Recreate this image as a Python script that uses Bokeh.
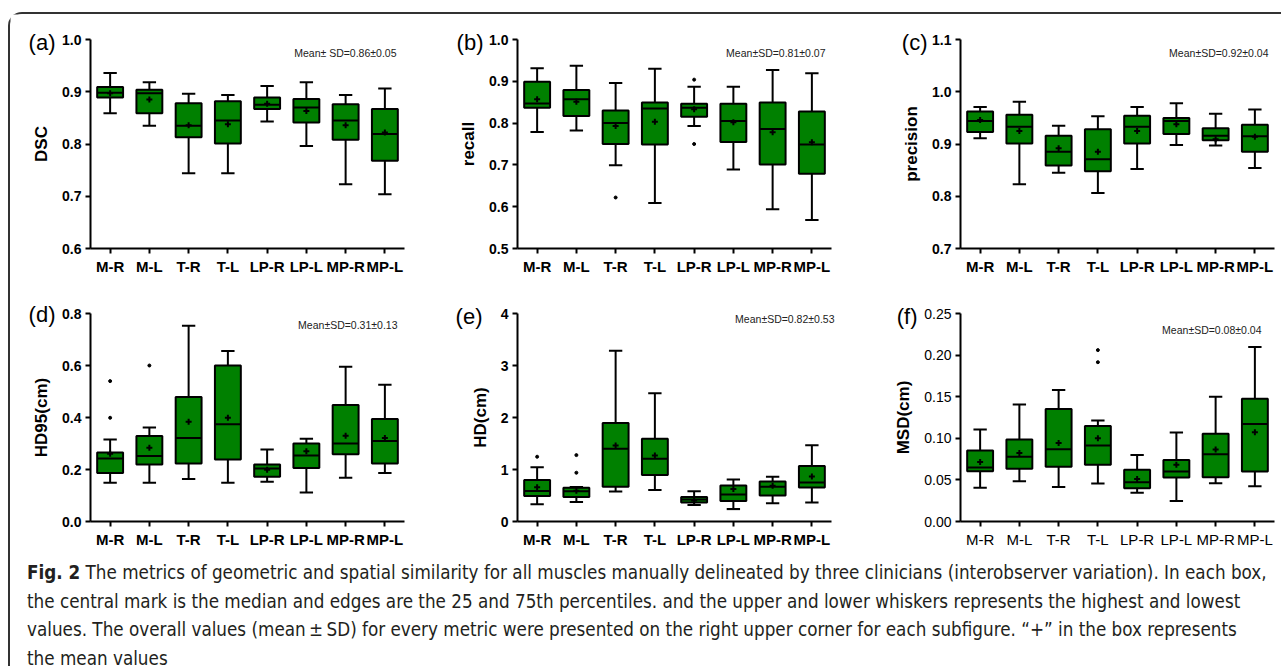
from bokeh.plotting import figure
from bokeh.models import Range1d, FixedTicker, Label, Div, NumeralTickFormatter
from bokeh.layouts import row, column
from bokeh.embed import file_html
from bokeh.resources import INLINE

categories = ["M-R", "M-L", "T-R", "T-L", "LP-R", "LP-L", "MP-R", "MP-L"]

# (a) DSC
dsc_low = [0.859, 0.835, 0.744, 0.744, 0.843, 0.796, 0.723, 0.704]
dsc_q1 = [0.889, 0.859, 0.813, 0.801, 0.867, 0.841, 0.808, 0.768]
dsc_med = [0.898, 0.897, 0.835, 0.845, 0.875, 0.870, 0.845, 0.819]
dsc_q3 = [0.909, 0.904, 0.878, 0.882, 0.889, 0.886, 0.876, 0.867]
dsc_high = [0.936, 0.918, 0.896, 0.894, 0.911, 0.918, 0.894, 0.906]
dsc_mean = [0.897, 0.885, 0.836, 0.838, 0.877, 0.863, 0.836, 0.822]
dsc_out_x = []
dsc_out_y = []

# (b) recall
rec_low = [0.779, 0.782, 0.699, 0.609, 0.793, 0.689, 0.594, 0.568]
rec_q1 = [0.837, 0.817, 0.750, 0.749, 0.815, 0.755, 0.701, 0.679]
rec_med = [0.847, 0.857, 0.800, 0.835, 0.837, 0.805, 0.786, 0.749]
rec_q3 = [0.899, 0.879, 0.830, 0.849, 0.846, 0.846, 0.849, 0.828]
rec_high = [0.931, 0.937, 0.896, 0.930, 0.887, 0.887, 0.927, 0.919]
rec_mean = [0.857, 0.851, 0.793, 0.803, 0.833, 0.802, 0.778, 0.754]
rec_out_x = [2, 4, 4]
rec_out_y = [0.622, 0.904, 0.750]

# (c) precision
pre_low = [0.911, 0.823, 0.845, 0.806, 0.852, 0.898, 0.897, 0.854]
pre_q1 = [0.923, 0.901, 0.859, 0.848, 0.901, 0.919, 0.907, 0.885]
pre_med = [0.944, 0.933, 0.885, 0.871, 0.933, 0.944, 0.916, 0.915]
pre_q3 = [0.962, 0.956, 0.916, 0.928, 0.954, 0.950, 0.930, 0.937]
pre_high = [0.971, 0.981, 0.935, 0.953, 0.971, 0.978, 0.958, 0.966]
pre_mean = [0.946, 0.925, 0.892, 0.885, 0.925, 0.938, 0.909, 0.914]
pre_out_x = []
pre_out_y = []

# (d) HD95 (cm)
h95_low = [0.149, 0.149, 0.163, 0.149, 0.153, 0.112, 0.168, 0.187]
h95_q1 = [0.187, 0.219, 0.223, 0.238, 0.172, 0.206, 0.259, 0.223]
h95_med = [0.242, 0.252, 0.321, 0.374, 0.204, 0.254, 0.300, 0.310]
h95_q3 = [0.265, 0.329, 0.479, 0.600, 0.219, 0.300, 0.448, 0.394]
h95_high = [0.315, 0.362, 0.753, 0.656, 0.277, 0.318, 0.595, 0.526]
h95_mean = [0.261, 0.284, 0.384, 0.399, 0.199, 0.270, 0.330, 0.321]
h95_out_x = [0, 0, 1]
h95_out_y = [0.540, 0.399, 0.600]

# (e) HD (cm)
hd_low = [0.331, 0.375, 0.575, 0.606, 0.319, 0.238, 0.350, 0.363]
hd_q1 = [0.490, 0.469, 0.668, 0.895, 0.363, 0.394, 0.500, 0.656]
hd_med = [0.588, 0.580, 1.400, 1.209, 0.425, 0.519, 0.669, 0.748]
hd_q3 = [0.800, 0.648, 1.892, 1.591, 0.472, 0.694, 0.769, 1.068]
hd_high = [1.043, 0.665, 3.283, 2.465, 0.584, 0.806, 0.862, 1.468]
hd_mean = [0.660, 0.590, 1.460, 1.270, 0.406, 0.625, 0.688, 0.865]
hd_out_x = [0, 1, 1]
hd_out_y = [1.246, 1.277, 0.938]

# (f) MSD (cm)
msd_low = [0.0407, 0.0484, 0.0415, 0.0456, 0.0346, 0.0246, 0.0460, 0.0423]
msd_q1 = [0.0605, 0.0633, 0.0658, 0.0682, 0.0400, 0.0528, 0.0532, 0.0601]
msd_med = [0.0650, 0.0779, 0.0868, 0.0912, 0.0472, 0.0601, 0.0807, 0.1171]
msd_q3 = [0.0852, 0.0985, 0.1353, 0.1147, 0.0621, 0.0738, 0.1054, 0.1474]
msd_high = [0.1106, 0.1405, 0.1580, 0.1215, 0.0800, 0.1070, 0.1500, 0.2097]
msd_mean = [0.0714, 0.0823, 0.0945, 0.1000, 0.0512, 0.0682, 0.0864, 0.1074]
msd_out_x = [3, 3]
msd_out_y = [0.206, 0.1915]

GREEN = "#008000"
FONT = "Liberation Sans"
AX_W = 314.0          # pixel length of the category axis
K = AX_W / 8.0        # pixels per category unit


def panel(letter, ylabel, yticks, fmt, stats, outx, outy, note, bold_ticks,
          fig_w, axis_off, top_pad, data_h, bottom_b,
          letter_dx, letter_dy, note_dx, note_dy):
    low, q1, med, q3, high, mean = stats
    ymin, ymax = yticks[0], yticks[-1]
    dy = (ymax - ymin) / data_h
    xl = -0.5 - axis_off / K
    xr = 7.5 + (fig_w - axis_off - AX_W) / K
    p = figure(width=fig_w, height=top_pad + data_h + bottom_b,
               x_range=Range1d(xl, xr),
               y_range=Range1d(ymin - bottom_b * dy, ymax + top_pad * dy),
               output_backend="svg", toolbar_location=None,
               min_border_left=0, min_border_right=0,
               min_border_top=0, min_border_bottom=0)
    p.outline_line_color = None
    p.xgrid.visible = False
    p.ygrid.visible = False
    p.background_fill_color = "white"
    p.border_fill_color = "white"

    xs = list(range(len(categories)))
    hw = 0.33
    cw = 0.17
    p.segment(x0=xs, x1=xs, y0=q3, y1=high, line_color="black", line_width=2)
    p.segment(x0=xs, x1=xs, y0=q1, y1=low, line_color="black", line_width=2)
    p.segment(x0=[x - cw for x in xs], x1=[x + cw for x in xs], y0=high, y1=high,
              line_color="black", line_width=2)
    p.segment(x0=[x - cw for x in xs], x1=[x + cw for x in xs], y0=low, y1=low,
              line_color="black", line_width=2)
    p.vbar(x=xs, width=2 * hw, bottom=q1, top=q3, fill_color=GREEN,
           line_color="black", line_width=2)
    p.segment(x0=[x - hw for x in xs], x1=[x + hw for x in xs], y0=med, y1=med,
              line_color="black", line_width=2)
    p.scatter(x=xs, y=mean, marker="cross", size=6, line_color="black", line_width=2)
    if outx:
        p.scatter(x=outx, y=outy, marker="circle", size=3,
                  fill_color="black", line_color="black")

    for ax in (p.xaxis[0], p.yaxis[0]):
        ax.axis_line_width = 2
        ax.axis_line_color = "black"
        ax.major_tick_line_width = 2
        ax.major_tick_line_color = "black"
        ax.major_tick_in = 0
        ax.major_tick_out = 5
        ax.minor_tick_line_color = None
        ax.major_label_text_font = FONT
        ax.major_label_text_color = "black"
        ax.major_label_text_font_style = "bold" if bold_ticks else "normal"

    p.xaxis.fixed_location = ymin
    p.xaxis.bounds = (-0.5, 7.5)
    p.xaxis.ticker = FixedTicker(ticks=xs)
    p.xaxis.major_label_overrides = {i: c for i, c in enumerate(categories)}
    p.xaxis.major_label_standoff = 4
    p.xaxis.major_label_text_font_size = "15px"

    p.yaxis.fixed_location = -0.5
    p.yaxis.bounds = (ymin, ymax)
    p.yaxis.ticker = FixedTicker(ticks=yticks)
    p.yaxis.formatter = NumeralTickFormatter(format=fmt)
    p.yaxis.major_label_standoff = 4
    p.yaxis.major_label_text_font_size = "14px"
    p.yaxis.axis_label = ylabel
    p.yaxis.axis_label_text_font = FONT
    p.yaxis.axis_label_text_font_size = "17px"
    p.yaxis.axis_label_text_font_style = "bold"
    p.yaxis.axis_label_text_color = "black"
    p.yaxis.axis_label_standoff = 8

    p.add_layout(Label(x=-0.5 - letter_dx / K, y=ymax - letter_dy * dy, text=letter,
                       text_align="right", text_baseline="middle",
                       text_font=FONT, text_font_size="22px", text_color="black"))
    p.add_layout(Label(x=7.5 - note_dx / K, y=ymax - note_dy * dy, text=note,
                       text_align="right", text_baseline="middle",
                       text_font=FONT, text_font_size="10.5px", text_color="#222222"))
    return p


FIG_W = [430, 440, 401]
AX_OFF = [80, 77, 80]
TOP = dict(top_pad=25, data_h=209, bottom_b=35)
BOT = dict(top_pad=30, data_h=208, bottom_b=33)

pa = panel("(a)", "DSC", [0.6, 0.7, 0.8, 0.9, 1.0], "0.0",
           (dsc_low, dsc_q1, dsc_med, dsc_q3, dsc_high, dsc_mean), dsc_out_x, dsc_out_y,
           "Mean\u00b1 SD=0.86\u00b10.05", True, FIG_W[0], AX_OFF[0], **TOP,
           letter_dx=35, letter_dy=3, note_dx=8, note_dy=13)
pb = panel("(b)", "recall", [0.5, 0.6, 0.7, 0.8, 0.9, 1.0], "0.0",
           (rec_low, rec_q1, rec_med, rec_q3, rec_high, rec_mean), rec_out_x, rec_out_y,
           "Mean\u00b1SD=0.81\u00b10.07", True, FIG_W[1], AX_OFF[1], **TOP,
           letter_dx=34, letter_dy=3, note_dx=6, note_dy=13)
pc = panel("(c)", "precision", [0.7, 0.8, 0.9, 1.0, 1.1], "0.0",
           (pre_low, pre_q1, pre_med, pre_q3, pre_high, pre_mean), pre_out_x, pre_out_y,
           "Mean\u00b1SD=0.92\u00b10.04", True, FIG_W[2], AX_OFF[2], **TOP,
           letter_dx=33, letter_dy=3, note_dx=6, note_dy=13)
pd_ = panel("(d)", "HD95(cm)", [0.0, 0.2, 0.4, 0.6, 0.8], "0.0",
            (h95_low, h95_q1, h95_med, h95_q3, h95_high, h95_mean), h95_out_x, h95_out_y,
            "Mean\u00b1SD=0.31\u00b10.13", True, FIG_W[0], AX_OFF[0], **BOT,
            letter_dx=35, letter_dy=1, note_dx=7, note_dy=11)
pe = panel("(e)", "HD(cm)", [0, 1, 2, 3, 4], "0",
           (hd_low, hd_q1, hd_med, hd_q3, hd_high, hd_mean), hd_out_x, hd_out_y,
           "Mean\u00b1SD=0.82\u00b10.53", True, FIG_W[1], AX_OFF[1], **BOT,
           letter_dx=35, letter_dy=3, note_dx=-3, note_dy=5)
pf = panel("(f)", "MSD(cm)", [0.0, 0.05, 0.10, 0.15, 0.20, 0.25], "0.00",
           (msd_low, msd_q1, msd_med, msd_q3, msd_high, msd_mean), msd_out_x, msd_out_y,
           "Mean\u00b1SD=0.08\u00b10.04", False, FIG_W[2], AX_OFF[2], **BOT,
           letter_dx=43, letter_dy=3, note_dx=13, note_dy=16)

caption_lines = [
    "<b>Fig. 2</b> The metrics of geometric and spatial similarity for all muscles manually delineated by three clinicians (interobserver variation). In each box,",
    "the central mark is the median and edges are the 25 and 75th percentiles. and the upper and lower whiskers represents the highest and lowest",
    "values. The overall values (mean\u2009\u00b1\u2009SD) for every metric were presented on the right upper corner for each subfigure. \u201c+\u201d in the box represents",
    "the mean values",
]
caption_html = ('<div style="font-family:\'Liberation Sans Narrow\',\'DejaVu Sans Condensed\',sans-serif;'
                'font-size:18.7px;line-height:28.5px;color:#231f20;white-space:nowrap;padding-left:12px">'
                + "<br>".join(caption_lines) + "</div>")
cap = Div(text=caption_html, width=1271, height=112, styles={"overflow": "hidden"})

layout = column(row(pa, pb, pc), row(pd_, pe, pf), cap,
                styles={"border-top": "2px solid #333333", "border-left": "2px solid #333333",
                        "border-top-left-radius": "14px", "margin-left": "8px",
                        "margin-top": "12px"})

open("out.html", "w").write(file_html(layout, INLINE))
